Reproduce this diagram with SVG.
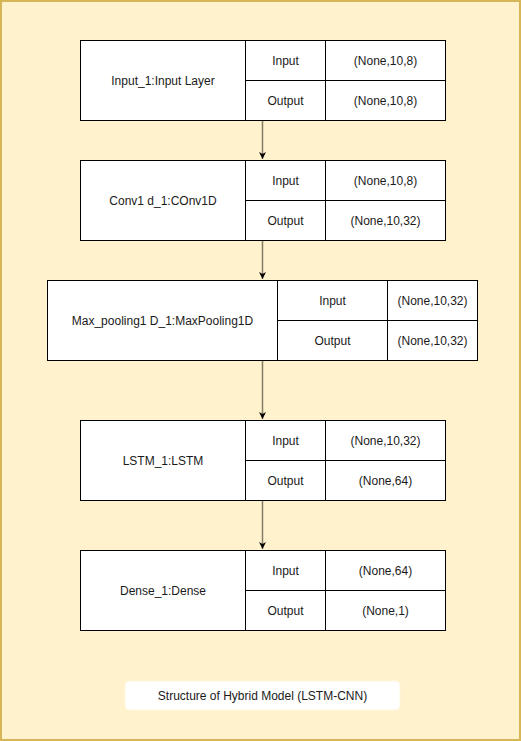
<svg xmlns="http://www.w3.org/2000/svg" width="521" height="741" viewBox="0 0 521 741">
<defs>
<style>
.cell{fill:#ffffff;stroke:#000000;stroke-width:1}
.t{font-family:"Liberation Sans",Arial,sans-serif;font-size:12px;fill:#1a1a1a;text-anchor:middle;dominant-baseline:central}
.edge{stroke:#857a66;stroke-width:1.5;fill:none}
</style>
<marker id="arr" markerWidth="8" markerHeight="8" refX="7" refY="4" orient="auto" markerUnits="userSpaceOnUse">
<path d="M0,0.5 L7,4 L0,7.5 L2,4 Z" fill="#000000"/>
</marker>
</defs>
<rect x="1" y="1" width="519" height="739" fill="#fff2cc" stroke="#d6b656" stroke-width="2"/>
<g id="connectors">
<line class="edge" x1="262.5" y1="120" x2="262.5" y2="159" marker-end="url(#arr)"/>
<line class="edge" x1="262.5" y1="240" x2="262.5" y2="279" marker-end="url(#arr)"/>
<line class="edge" x1="262.5" y1="360" x2="262.5" y2="419" marker-end="url(#arr)"/>
<line class="edge" x1="262.5" y1="500" x2="262.5" y2="549" marker-end="url(#arr)"/>
</g>
<g id="input_layer">
<rect class="cell" x="80.5" y="40.5" width="165" height="80"/>
<rect class="cell" x="245.5" y="40.5" width="80" height="40"/>
<rect class="cell" x="245.5" y="80.5" width="80" height="40"/>
<rect class="cell" x="325.5" y="40.5" width="120" height="40"/>
<rect class="cell" x="325.5" y="80.5" width="120" height="40"/>
<text class="t" x="163" y="80.5">Input_1:Input Layer</text>
<text class="t" x="285.5" y="60.5">Input</text>
<text class="t" x="285.5" y="100.5">Output</text>
<text class="t" x="385.5" y="60.5">(None,10,8)</text>
<text class="t" x="385.5" y="100.5">(None,10,8)</text>
</g>
<g id="conv1d">
<rect class="cell" x="80.5" y="160.5" width="165" height="80"/>
<rect class="cell" x="245.5" y="160.5" width="80" height="40"/>
<rect class="cell" x="245.5" y="200.5" width="80" height="40"/>
<rect class="cell" x="325.5" y="160.5" width="120" height="40"/>
<rect class="cell" x="325.5" y="200.5" width="120" height="40"/>
<text class="t" x="163" y="200.5">Conv1 d_1:COnv1D</text>
<text class="t" x="285.5" y="180.5">Input</text>
<text class="t" x="285.5" y="220.5">Output</text>
<text class="t" x="385.5" y="180.5">(None,10,8)</text>
<text class="t" x="385.5" y="220.5">(None,10,32)</text>
</g>
<g id="maxpool">
<rect class="cell" x="47.5" y="280.5" width="230" height="80"/>
<rect class="cell" x="277.5" y="280.5" width="110" height="40"/>
<rect class="cell" x="277.5" y="320.5" width="110" height="40"/>
<rect class="cell" x="387.5" y="280.5" width="90" height="40"/>
<rect class="cell" x="387.5" y="320.5" width="90" height="40"/>
<text class="t" x="162.5" y="320.5">Max_pooling1 D_1:MaxPooling1D</text>
<text class="t" x="332.5" y="300.5">Input</text>
<text class="t" x="332.5" y="340.5">Output</text>
<text class="t" x="432.5" y="300.5">(None,10,32)</text>
<text class="t" x="432.5" y="340.5">(None,10,32)</text>
</g>
<g id="lstm">
<rect class="cell" x="80.5" y="420.5" width="165" height="80"/>
<rect class="cell" x="245.5" y="420.5" width="80" height="40"/>
<rect class="cell" x="245.5" y="460.5" width="80" height="40"/>
<rect class="cell" x="325.5" y="420.5" width="120" height="40"/>
<rect class="cell" x="325.5" y="460.5" width="120" height="40"/>
<text class="t" x="163" y="460.5">LSTM_1:LSTM</text>
<text class="t" x="285.5" y="440.5">Input</text>
<text class="t" x="285.5" y="480.5">Output</text>
<text class="t" x="385.5" y="440.5">(None,10,32)</text>
<text class="t" x="385.5" y="480.5">(None,64)</text>
</g>
<g id="dense">
<rect class="cell" x="80.5" y="550.5" width="165" height="80"/>
<rect class="cell" x="245.5" y="550.5" width="80" height="40"/>
<rect class="cell" x="245.5" y="590.5" width="80" height="40"/>
<rect class="cell" x="325.5" y="550.5" width="120" height="40"/>
<rect class="cell" x="325.5" y="590.5" width="120" height="40"/>
<text class="t" x="163" y="590.5">Dense_1:Dense</text>
<text class="t" x="285.5" y="570.5">Input</text>
<text class="t" x="285.5" y="610.5">Output</text>
<text class="t" x="385.5" y="570.5">(None,64)</text>
<text class="t" x="385.5" y="610.5">(None,1)</text>
</g>
<g id="caption">
<rect x="125" y="681" width="275" height="29" rx="4" ry="4" fill="#ffffff" stroke="#fff6dd" stroke-width="1"/>
<text class="t" x="262.5" y="695.5">Structure of Hybrid Model (LSTM-CNN)</text>
</g>
</svg>
